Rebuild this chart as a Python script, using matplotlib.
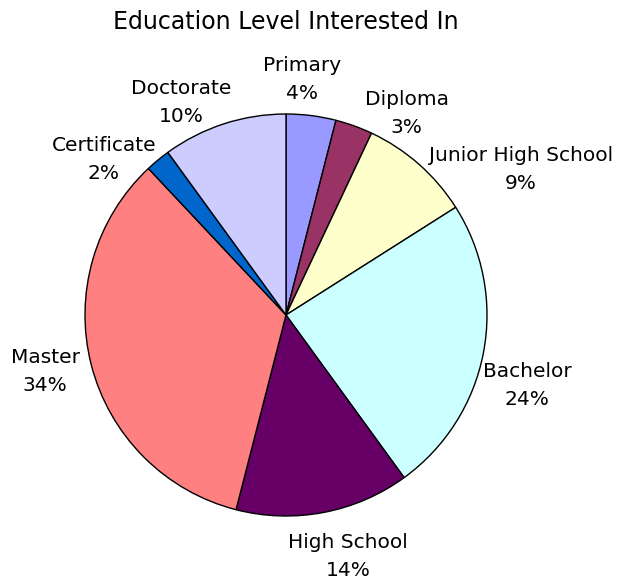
import matplotlib
matplotlib.use("Agg")
import matplotlib.pyplot as plt
import numpy as np

labels = ["Primary", "Diploma", "Junior High School", "Bachelor",
          "High School", "Master", "Certificate", "Doctorate"]
values = [4, 3, 9, 24, 14, 34, 2, 10]
colors = ["#9999FF", "#993366", "#FFFFCC", "#CCFFFF",
          "#660066", "#FF8080", "#0066CC", "#CCCCFF"]

# label placement: radial distance and angle shift (deg) from wedge middle
label_dist = [1.172, 1.171, 1.374, 1.25, 1.238, 1.231, 1.19, 1.181]
label_shift = [3.3, -11.1, -16.9, -5.6, 3.6, -1.3, 10.0, 8.2]

plt.rcParams['font.family'] = ['DejaVu Sans']

fig = plt.figure(figsize=(6.19, 5.82), dpi=100)
W, H = 619, 582
cx, cy, r = 286, 315, 201
ax = fig.add_axes([(cx - r) / W, (H - cy - r) / H, 2 * r / W, 2 * r / H])

wedges, _ = ax.pie(values, colors=colors, startangle=90, counterclock=False,
                   wedgeprops=dict(edgecolor="black", linewidth=1))
ax.set_xlim(-1, 1)
ax.set_ylim(-1, 1)
ax.set_aspect("equal")

for w, l, v, d, s in zip(wedges, labels, values, label_dist, label_shift):
    ang = np.deg2rad((w.theta1 + w.theta2) / 2 + s)
    ax.text(d * np.cos(ang), d * np.sin(ang), f"{l}\n{v}%",
            ha="center", va="center", fontsize=14.5, linespacing=1.6,
            multialignment="center")

fig.text(cx / W, 1 - 22 / H, "Education Level Interested In",
         ha="center", va="center", fontsize=17)

fig.savefig("out.png", dpi=100)
